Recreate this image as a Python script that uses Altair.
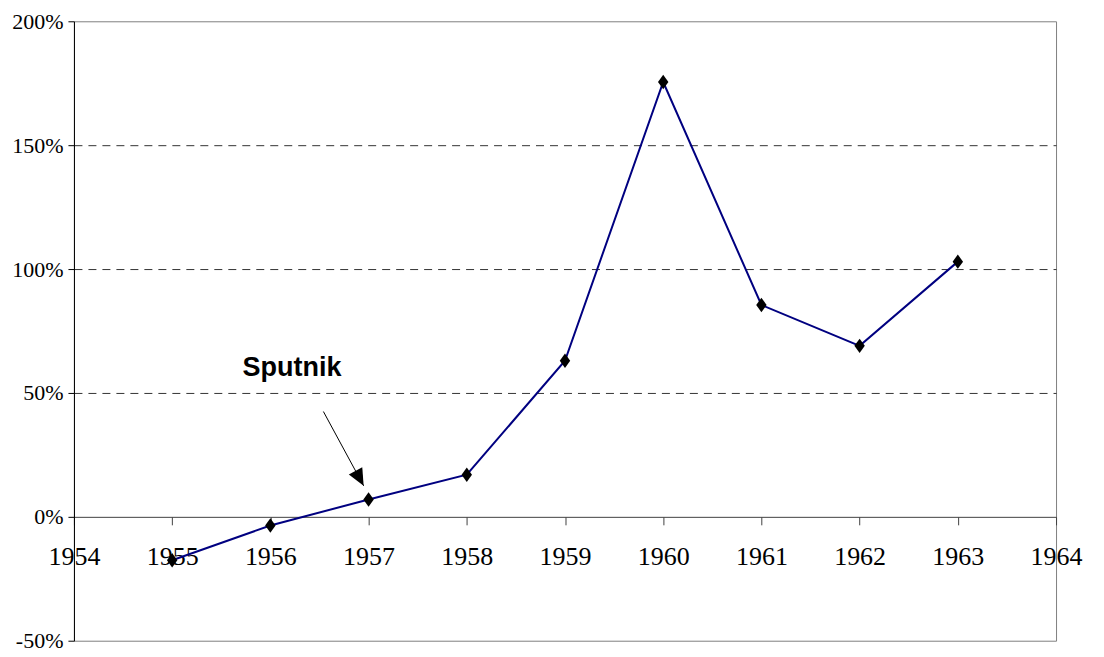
import altair as alt
import pandas as pd

# Data
years = [1955, 1956, 1957, 1958, 1959, 1960, 1961, 1962, 1963]
growth = [-17.5, -3.5, 7, 17, 63, 175.5, 85.5, 69, 103]

tick_years = list(range(1954, 1965))
y_ticks = [-50, 0, 50, 100, 150, 200]

label_text = ["Sputnik"]
label_x = [1956.22]
label_y = [57]

arrow_x = [1956.54]
arrow_y = [42.5]
arrow_x2 = [1956.95]
arrow_y2 = [12.5]

df = pd.DataFrame({"year": years, "growth": growth})
df_label = pd.DataFrame({"x": label_x, "y": label_y, "text": label_text})
df_arrow = pd.DataFrame({"x": arrow_x, "y": arrow_y, "x2": arrow_x2, "y2": arrow_y2})

x_scale = alt.Scale(domain=[1954, 1964], nice=False, zero=False)
y_scale = alt.Scale(domain=[-50, 200], nice=False, zero=False)

x_axis = alt.Axis(
    values=tick_years, format="d", title=None, offset=-124,
    domainColor="#404040", tickColor="#404040", tickSize=8,
    labelPadding=19, labelFont="Liberation Serif", labelFontSize=26,
    labelColor="black", grid=False, labelFlush=False, labelOverlap=False,
)
y_axis = alt.Axis(
    values=y_ticks, labelExpr="datum.value + '%'", title=None,
    domainColor="black", tickColor="black", tickSize=6, labelPadding=5,
    labelFont="Liberation Serif", labelFontSize=22, labelColor="black",
    labelFlush=False, labelOverlap=False,
    grid=True, gridDash=[8, 6], gridColor="#333333",
    gridOpacity={"condition": {"test": "datum.value == 200 || datum.value == -50 || datum.value == 0", "value": 0}, "value": 1},
)

base = alt.Chart(df).encode(
    x=alt.X("year:Q", scale=x_scale, axis=x_axis),
    y=alt.Y("growth:Q", scale=y_scale, axis=y_axis),
)
line = base.mark_line(color="#000080", strokeWidth=2)
points = base.mark_point(
    shape="M0,-1L0.72,0L0,1L-0.72,0Z", size=210, filled=True, color="black", opacity=1
)

arrow_line = alt.Chart(df_arrow).mark_rule(color="black", strokeWidth=1).encode(
    x=alt.X("x:Q", scale=x_scale, axis=x_axis),
    y=alt.Y("y:Q", scale=y_scale, axis=y_axis),
    x2="x2:Q", y2="y2:Q",
)
arrow_head = alt.Chart(df_arrow).mark_point(
    shape="M0,0L-0.45,-1L0.45,-1Z", size=1156, filled=True, color="black",
    opacity=1, angle=331.5,
).encode(
    x=alt.X("x2:Q", scale=x_scale, axis=x_axis),
    y=alt.Y("y2:Q", scale=y_scale, axis=y_axis),
)
label = alt.Chart(df_label).mark_text(
    font="Liberation Sans", fontWeight="bold", fontSize=27, color="black",
    align="center", baseline="alphabetic",
).encode(
    x=alt.X("x:Q", scale=x_scale, axis=x_axis),
    y=alt.Y("y:Q", scale=y_scale, axis=y_axis),
    text="text:N",
)

chart = alt.layer(line, points, arrow_line, arrow_head, label).properties(
    width=983, height=620,
    autosize=alt.AutoSizeParams(type="none"),
    padding={"left": 66, "top": 13, "right": 40, "bottom": 20},
).configure_view(stroke="#808080", strokeWidth=1)

chart.save("out.html", embed_options={"renderer": "svg", "actions": False})
